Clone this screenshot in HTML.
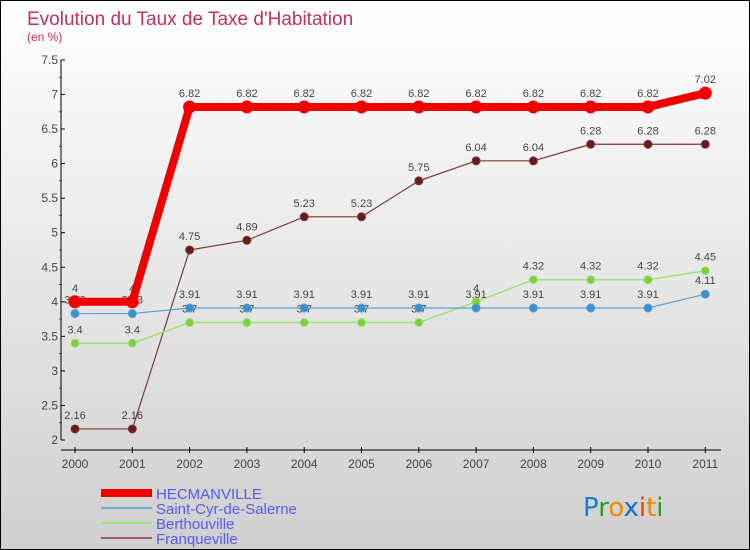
<!DOCTYPE html>
<html><head><meta charset="utf-8"><style>
body{margin:0}
#c{width:748px;height:548px;border:1px solid #000;background:linear-gradient(#fff,#cfcfcf);position:relative;font-family:"Liberation Sans",sans-serif;overflow:hidden}
</style></head><body>
<div id="c">
<svg id="s" width="748" height="548"></svg>
</div>
<script>
const years=["2000","2001","2002","2003","2004","2005","2006","2007","2008","2009","2010","2011"];
const hecmanville=[4,4,6.82,6.82,6.82,6.82,6.82,6.82,6.82,6.82,6.82,7.02];
const saintCyr=[3.83,3.83,3.91,3.91,3.91,3.91,3.91,3.91,3.91,3.91,3.91,4.11];
const berthouville=[3.4,3.4,3.7,3.7,3.7,3.7,3.7,4,4.32,4.32,4.32,4.45];
const franqueville=[2.16,2.16,4.75,4.89,5.23,5.23,5.75,6.04,6.04,6.28,6.28,6.28];
const yTicks=[2,2.5,3,3.5,4,4.5,5,5.5,6,6.5,7,7.5];
const seriesNames=["HECMANVILLE","Saint-Cyr-de-Salerne","Berthouville","Franqueville"];
const NS="http://www.w3.org/2000/svg";
const s=document.getElementById('s');
const X=i=>74+i*57.3;
const Y=v=>439-(v-2)*69.1;
function el(t,a,p){const e=document.createElementNS(NS,t);for(const k in a)e.setAttribute(k,a[k]);(p||s).appendChild(e);return e;}
function tx(x,y,str,a){const e=el('text',Object.assign({x:x,y:y},a));e.textContent=str;return e;}
let t=tx(26,24,"Evolution du Taux de Taxe d'Habitation",{fill:'#c03060','font-size':19});

t=tx(26,40,"(en %)",{fill:'#c03060','font-size':12});

// axes
let a=el('line',{x1:60,y1:Y(7.5),x2:60,y2:439,stroke:'#000','stroke-width':1});

a=el('line',{x1:60,y1:449,x2:720,y2:449,stroke:'#000','stroke-width':1});

yTicks.forEach((v,i)=>{
 el('line',{x1:60,y1:Y(v),x2:64,y2:Y(v),stroke:'#000'});
 if(i<yTicks.length-1)el('line',{x1:58,y1:Y(v+0.25),x2:61,y2:Y(v+0.25),stroke:'#e00'});
 const l=tx(57,Y(v)+4,String(v),{fill:'#444','font-size':12,'text-anchor':'end'});
 
});
years.forEach((y,i)=>{
 el('line',{x1:X(i),y1:446,x2:X(i),y2:452,stroke:'#000'});
 const l=tx(X(i),467,y,{fill:'#444','font-size':12,'text-anchor':'middle'});
 
});
function series(d,col,w,r,fill,name){
 const g=el('g',{});
 el('polyline',{points:d.map((v,i)=>X(i)+','+Y(v)).join(' '),fill:'none',stroke:col,'stroke-width':w,'stroke-linejoin':'round'},g);
 d.forEach((v,i)=>{
  const c=el('circle',{cx:X(i),cy:Y(v),r:r,fill:fill,stroke:col,'stroke-width':1},g);
  
  const l=tx(X(i),Y(v)-10,String(v),{fill:'#444','font-size':11,'text-anchor':'middle'},g);
  
 });
}
series(franqueville,'#7a3a3a',1.2,4,'#6a1a1a','franqueville-series');
series(berthouville,'#9ee07a',1.5,4,'#7ccf3a','berthouville-series');
series(saintCyr,'#5a9fd0',1.2,4,'#3a8fd0','saint-cyr-series');
series(hecmanville,'#f00000',8,6,'#f00000','hecmanville-series');
// legend
const lc=[['#f00000',8],['#6fa8d0',2],['#9ee07a',2],['#9a6060',2]];
seriesNames.forEach((n,i)=>{
 const y=492+i*15;
 const g=el('g',{});
 el('line',{x1:100,y1:y,x2:151,y2:y,stroke:lc[i][0],'stroke-width':lc[i][1]},g);
 tx(155,y+6,n,{fill:'#5a5af0','font-size':15},g);
});
// logo
const lg=el('text',{x:582,y:515,'font-size':26,'font-family':'"DejaVu Sans",sans-serif'});

[['P','#1a7ad0'],['r','#2a9a2a'],['o','#f08a00'],['x','#1a6ad0'],['i','#f04000'],['t','#f08a00'],['i','#2a9a2a']].forEach(([c,f])=>{const sp=el('tspan',{fill:f},lg);sp.textContent=c;});
</script>
</body></html>
